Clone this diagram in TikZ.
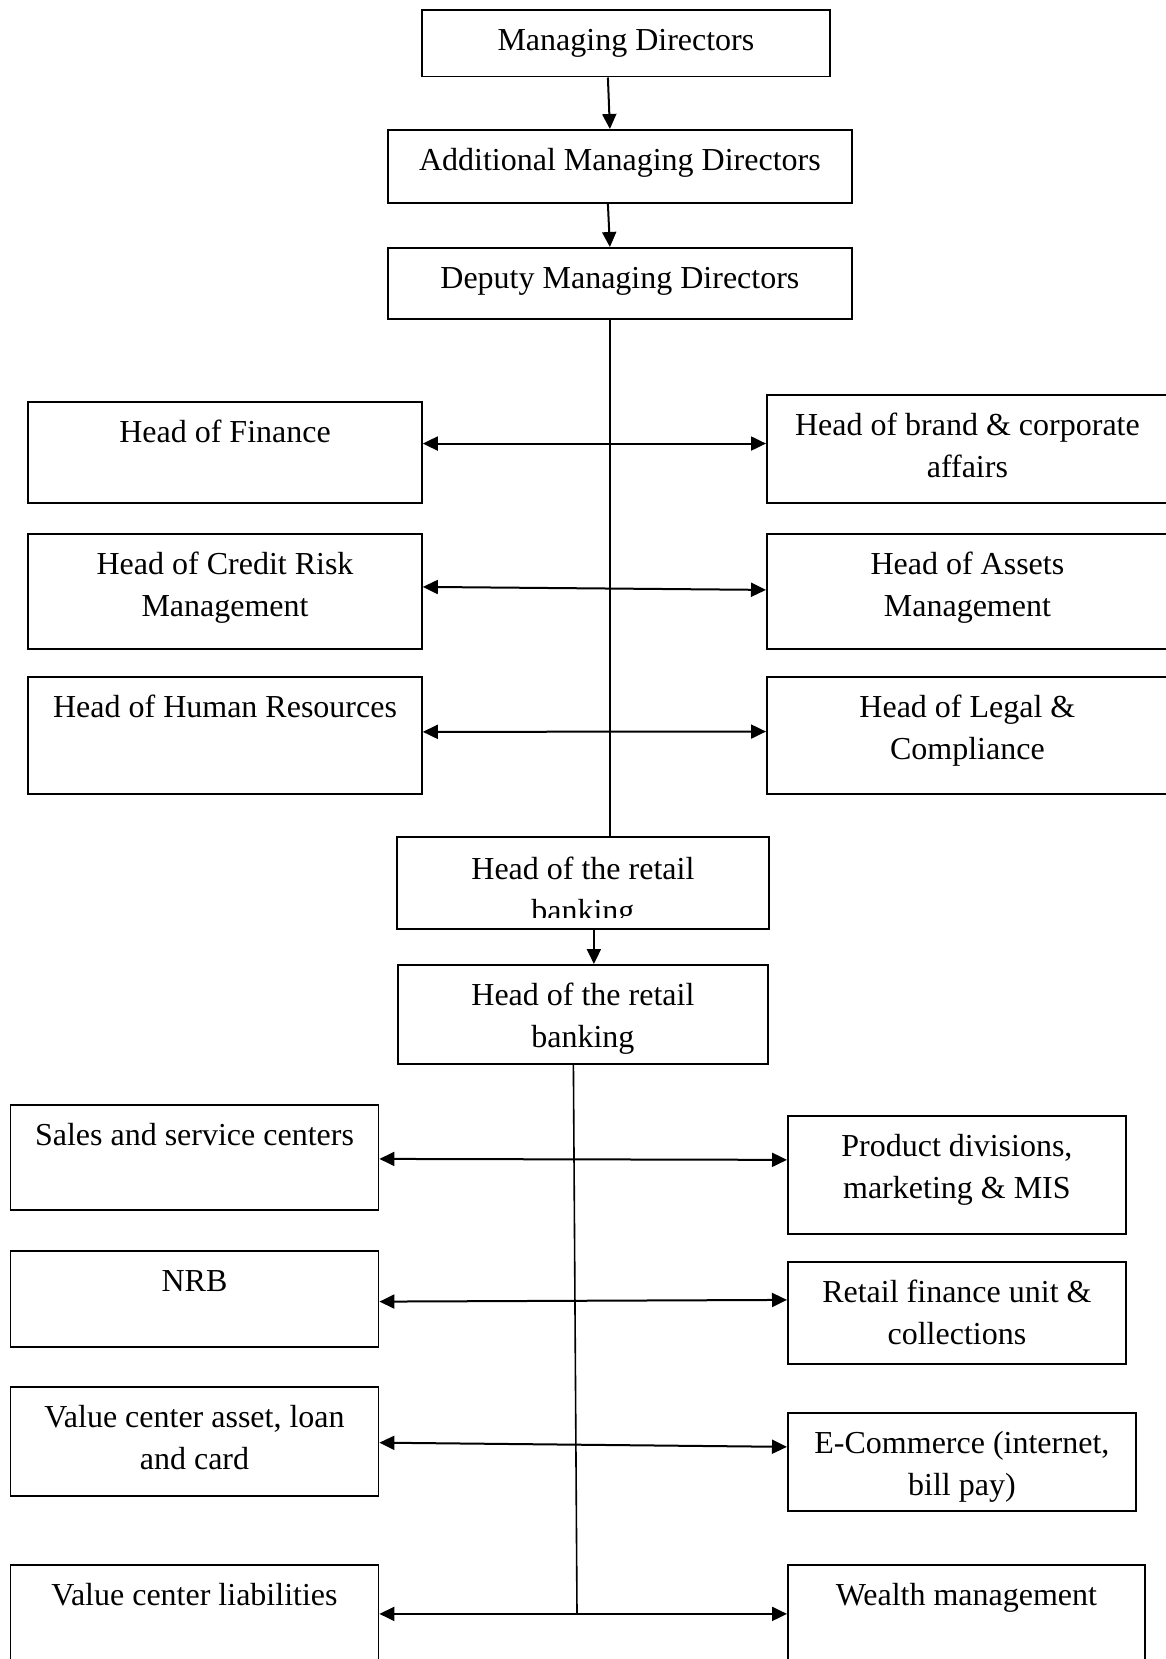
\documentclass[tikz,border=0pt]{standalone}
\usepackage{fontspec}
\setmainfont{Liberation Serif}
\usetikzlibrary{arrows.meta}
\newcommand{\unitfont}{\fontsize{32}{42}\selectfont}
\tikzset{
	unit/.style 2 args={
		draw,
		line width=1.8pt,
		anchor=north west,
		align=center,
		inner sep=0pt,
		font=\unitfont,
		minimum width=#1pt,
		text height=40.5pt,
		text depth=#2pt-40.5pt
	},
	pair/.style 2 args={
		unit={#1}{#2},
		text height=82.5pt,
		text depth=#2pt-82.5pt
	},
	link/.style={
		line width=2pt,
		>={Triangle[length=15pt,width=14pt]}
	},
	spine/.style={
		line width=1.6pt
	}
}

\begin{document}
\begin{tikzpicture}[x=1pt, y=-1pt]
\useasboundingbox (0,0) rectangle (1165,1659);

% top of the chart
\node(md)[unit={408}{66.4}] at (421,9.3) {Managing Directors};
\node(amd)[unit={464}{73}] at (387,129) {Additional Managing Directors};
\node(dmd)[unit={464}{71}] at (387,247) {Deputy Managing Directors};

\node(fin)[pair={393.7}{100.7}] at (27.3,401) {Head of Finance\\ \mbox{}};
\node(crm)[pair={393.7}{115}] at (27.3,533) {Head of Credit Risk\\Management};
\node(hr)[pair={393.7}{116.7}] at (27.3,676) {Head of Human Resources\\ \mbox{}};

\node(brand)[pair={401}{107.7}] at (766,394) {Head of brand \& corporate\\affairs};
\node(assets)[pair={401}{115}] at (766,533) {Head of Assets\\Management};
\node(legal)[pair={401}{116.7}] at (766,676) {Head of Legal \&\\Compliance};

% retail banking
\begin{scope}
	\clip (380,830) rectangle (790,917);
	\node(rb1)[pair={370}{90}, draw=none, text height=83.5pt, text depth=6.5pt] at (397,837) {Head of the retail\\banking};
\end{scope}
\draw[line width=1.8pt] (rb1.north west) rectangle (rb1.south east);
\node(rb2)[pair={370}{99}] at (397,964) {Head of the retail\\banking};

\node(sales)[pair={368}{105}] at (9.6,1104) {Sales and service centers\\ \mbox{}};
\node(nrb)[pair={368}{96}] at (9.6,1250) {NRB\\ \mbox{}};
\node(vca)[pair={368}{109.3}] at (9.6,1385.7) {Value center asset, loan\\and card};
\node(vcl)[pair={368}{110}] at (9.6,1564) {Value center liabilities\\ \mbox{}};

\node(prod)[pair={338}{117.7}] at (787,1115) {Product divisions,\\marketing \& MIS};
\node(rf)[pair={338}{102}] at (787,1260.7) {Retail finance unit \&\\collections};
\node(ecom)[pair={348}{98.3}] at (787,1411.7) {E-Commerce (internet,\\bill pay)};
\node(wealth)[pair={357}{110}] at (787,1564) {Wealth management\\ \mbox{}};

\coordinate(tb) at (577,1613);

% connectors
\draw[link, ->] ([xshift=-18]md.south) -- ([xshift=-10]amd.north);
\draw[link, ->] ([xshift=-12]amd.south) -- ([xshift=-10]dmd.north);
\draw[spine] ([xshift=-10]dmd.south) -- ([xshift=-10]dmd.south |- rb1.north);

\draw[link, <->] ([yshift=8.7]fin.east) -- ([yshift=5.2]brand.west);
\draw[link, <->] ([yshift=4.5]crm.east) -- ([yshift=1.5]assets.west);
\draw[link, <->] ([yshift=3.4]hr.east) -- ([yshift=3.7]legal.west);

\draw[link, ->] ([xshift=11]rb1.south) -- ([xshift=11]rb2.north);
\draw[spine] ([xshift=-9.5]rb2.south) -- (tb);

\draw[link, <->] ([yshift=-1.5]sales.east) -- ([yshift=14.9]prod.west);
\draw[link, <->] ([yshift=-2.7]nrb.east) -- ([yshift=12.7]rf.west);
\draw[link, <->] ([yshift=-1.4]vca.east) -- ([yshift=14.9]ecom.west);
\draw[link, <->] ([yshift=6]vcl.east) -- ([yshift=6]wealth.west);

\end{tikzpicture}
\end{document}
